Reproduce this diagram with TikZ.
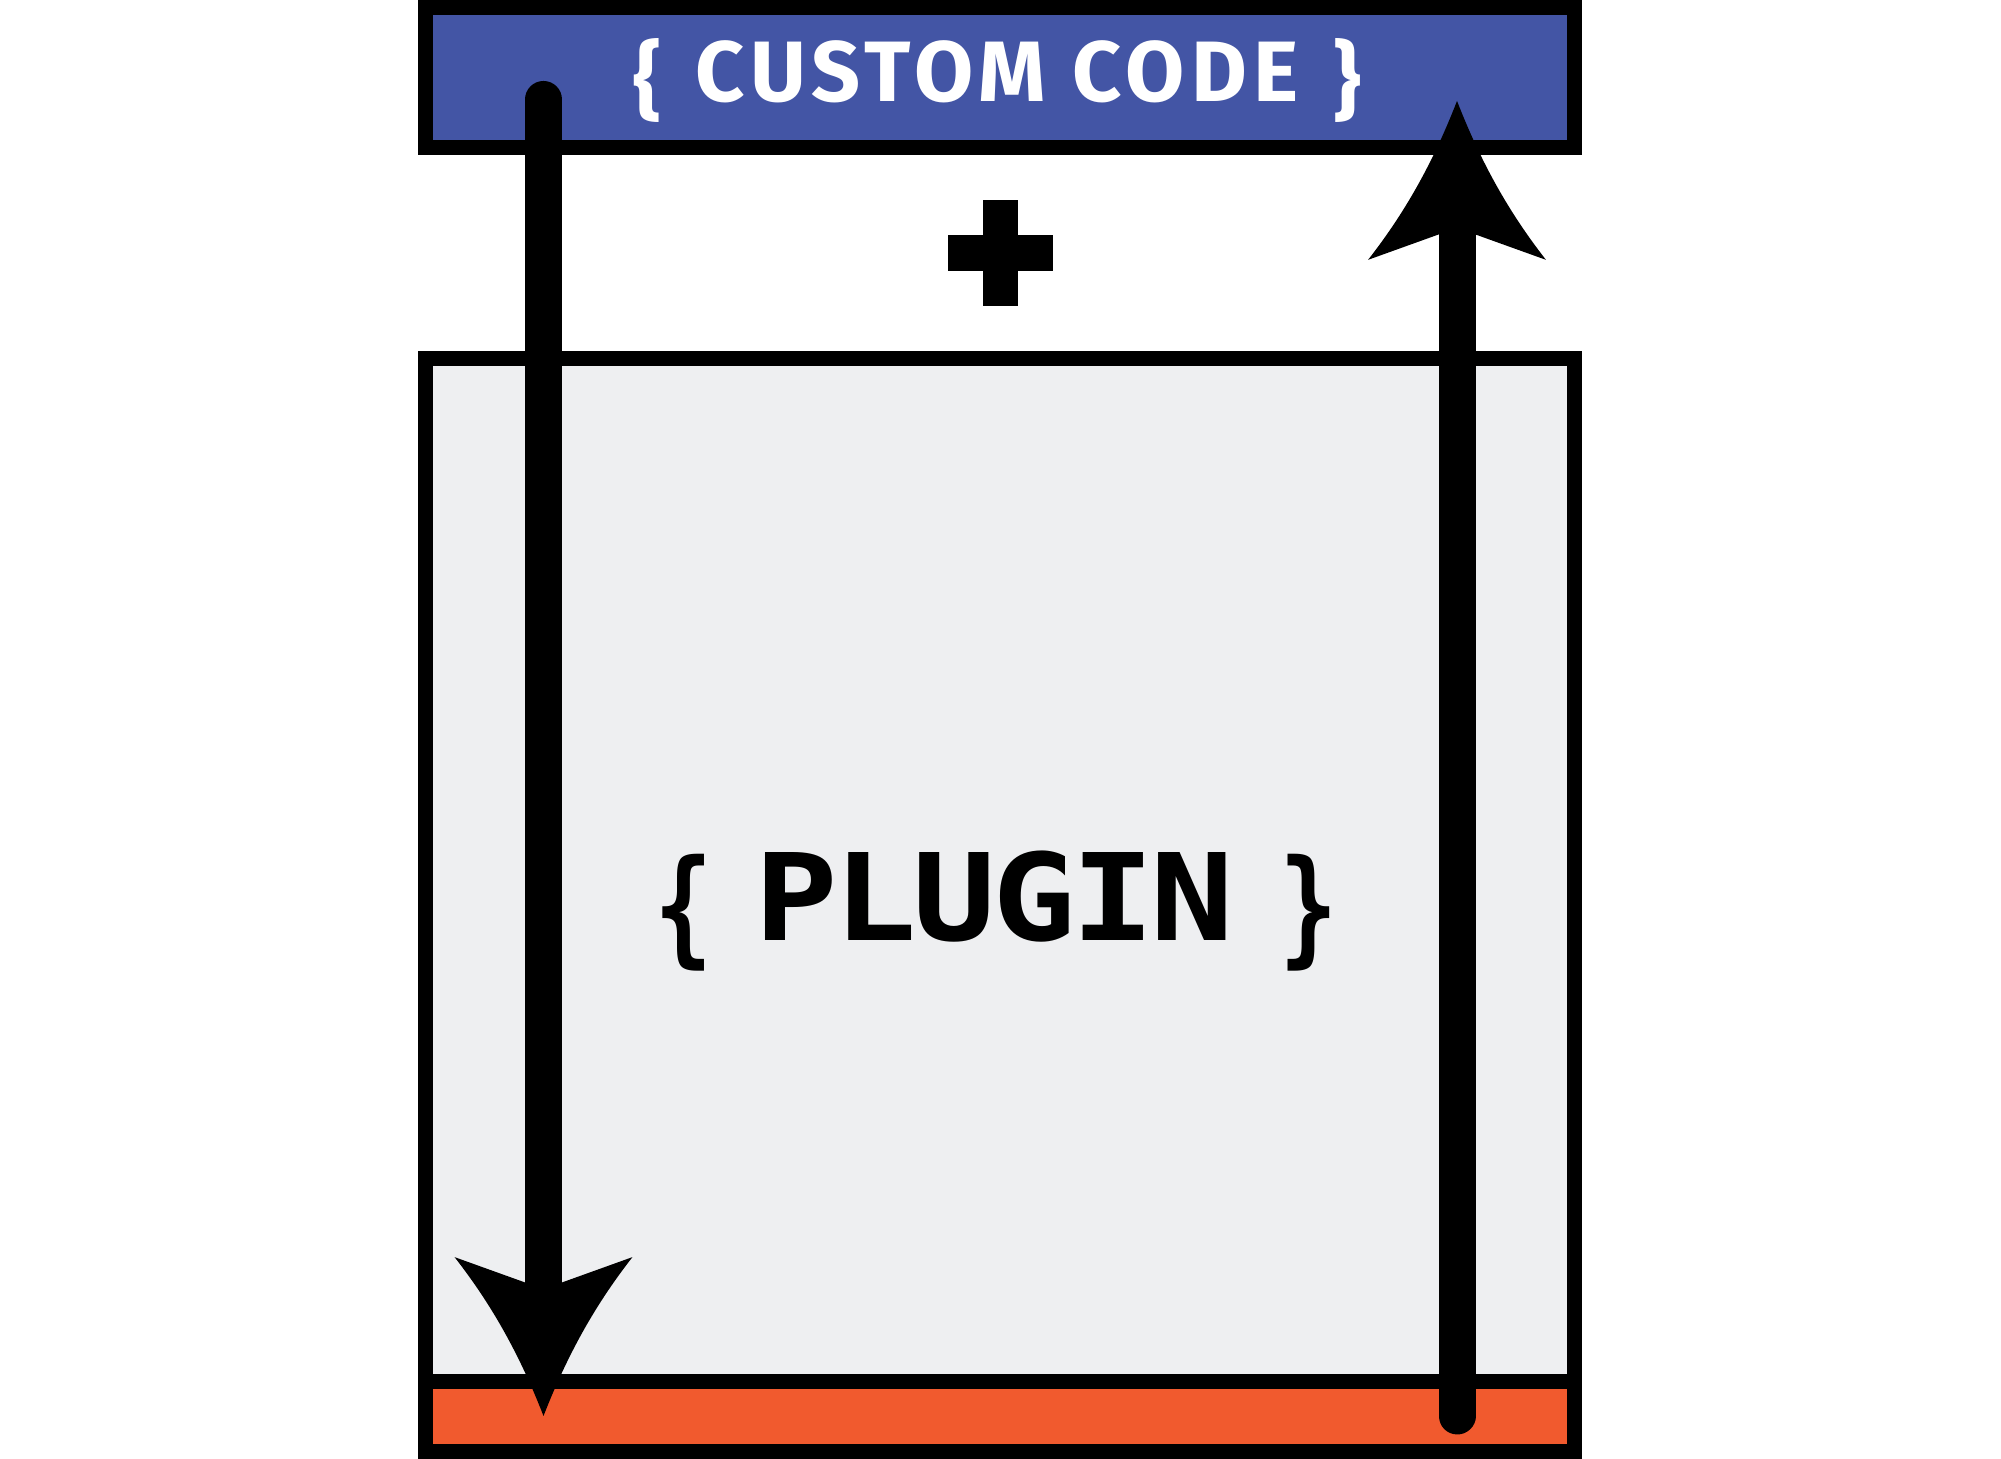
\documentclass[tikz,border=0pt]{standalone}
\usepackage{fontspec}
\newfontfamily\customfont[LetterSpace=7]{Fira Sans}
\newfontfamily\pluginfont[FakeStretch=1.15, LetterSpace=-3.7]{DejaVu Sans Mono}

\definecolor{codeblue}{RGB}{67,85,165}
\definecolor{pluggray}{RGB}{238,239,241}
\definecolor{hookorange}{RGB}{241,90,46}

% Long arrow head with hollow sides
\pgfdeclarearrow{
  name = Swoop,
  setup code = {
    \pgfarrowssettipend{0pt}
    \pgfarrowssetlineend{-30pt}
    \pgfarrowssetbackend{-45.2pt}
    \pgfarrowssetvisualbackend{-36.1pt}
    \pgfarrowshullpoint{0pt}{0pt}
    \pgfarrowshullpoint{-45.2pt}{25.3pt}
    \pgfarrowshullpoint{-45.2pt}{-25.3pt}
  },
  drawing code = {
    \pgfpathmoveto{\pgfqpoint{0pt}{0pt}}
    \pgfpathcurveto{\pgfqpoint{-18pt}{7pt}}{\pgfqpoint{-32pt}{15pt}}{\pgfqpoint{-45.2pt}{25.3pt}}
    \pgfpathlineto{\pgfqpoint{-36.1pt}{0pt}}
    \pgfpathlineto{\pgfqpoint{-45.2pt}{-25.3pt}}
    \pgfpathcurveto{\pgfqpoint{-32pt}{-15pt}}{\pgfqpoint{-18pt}{-7pt}}{\pgfqpoint{0pt}{0pt}}
    \pgfpathclose
    \pgfusepathqfill
  }
}

% Braces round the labels
\newcommand{\lbr}{\raisebox{-0.1em}{\{}\hspace{0.1em}}
\newcommand{\rbr}{\hspace{0.1em}\raisebox{-0.1em}{\}}}
\newcommand{\plbr}{\raisebox{-0.08em}{\scalebox{0.7}[1.05]{\{}}\hspace{-0.31em}}
\newcommand{\prbr}{\hspace{-0.28em}\raisebox{-0.08em}{\scalebox{0.7}[1.05]{\}}}}

\begin{document}
\begin{tikzpicture}

% Sizes
\def\boxw{11.49}
\def\border{0.15cm}
\def\flow{0.37cm}

\useasboundingbox (0,0) rectangle (20.01,14.59);

% Boxes
\node[draw, line width=\border, fill=pluggray, minimum width=\boxw cm, minimum height=10.23cm]
      (plugin) at (10,5.89) {};
\node[draw, line width=\border, fill=hookorange, minimum width=\boxw cm, minimum height=0.7cm]
      (hook) at (10,0.425) {};
\node[draw, line width=\border, fill=codeblue, minimum width=\boxw cm, minimum height=1.4cm]
      (custom) at (10,13.815) {};

% Labels
\node[text=white, anchor=base, inner sep=0] (customtext) at (9.97,13.57)
      {\fontsize{24.4}{24}\selectfont\customfont\bfseries \lbr{} CUSTOM CODE \rbr};
\node[anchor=base, inner sep=0] (plugintext) at (9.96,5.18)
      {\fontsize{34.35}{34}\selectfont\pluginfont\bfseries \plbr{} PLUGIN \prbr};

% Plus sign
\coordinate (plus) at (10.005,12.06);
\fill ([shift={(-0.525,-0.18)}]plus) rectangle ([shift={(0.525,0.18)}]plus);
\fill ([shift={(-0.175,-0.53)}]plus) rectangle ([shift={(0.175,0.53)}]plus);

% Flow down and back up
\coordinate (downstart) at (5.435,13.595);
\coordinate (downend) at (5.435,0.43);
\coordinate (upstart) at (14.57,0.43);
\coordinate (upend) at (14.57,13.58);

\draw[line width=\flow, line cap=round, -{Swoop}] (downstart) -- (downend);
\draw[line width=\flow, line cap=round, -{Swoop}] (upstart) -- (upend);

\end{tikzpicture}
\end{document}
